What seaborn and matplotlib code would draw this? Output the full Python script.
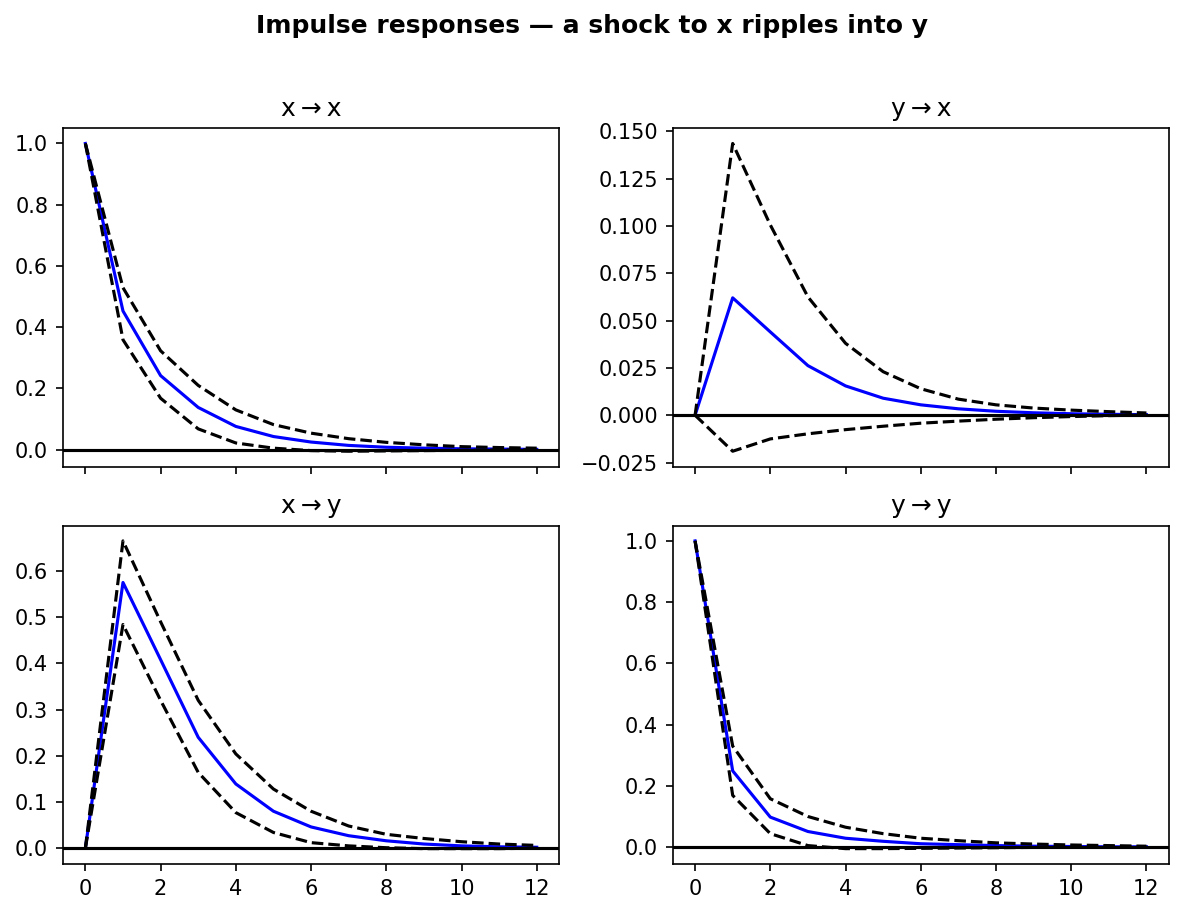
import numpy as np
import matplotlib
matplotlib.use("Agg")
import matplotlib.pyplot as plt
import seaborn as sns

# horizons 0..12
steps = list(range(13))

# x -> x
xx_irf = [1.0, 0.453, 0.242, 0.138, 0.076, 0.043, 0.025, 0.014, 0.008, 0.005, 0.003, 0.002, 0.001]
xx_upper = [1.0, 0.529, 0.323, 0.210, 0.130, 0.082, 0.054, 0.036, 0.024, 0.016, 0.010, 0.007, 0.005]
xx_lower = [1.0, 0.359, 0.168, 0.068, 0.022, 0.005, -0.003, -0.005, -0.004, -0.003, -0.002, -0.001, 0.0]

# y -> x
yx_irf = [0.0, 0.0620, 0.0440, 0.0262, 0.0155, 0.0090, 0.0055, 0.0034, 0.0021, 0.0013, 0.0008, 0.0005, 0.0003]
yx_upper = [0.0, 0.1435, 0.1005, 0.0625, 0.0380, 0.0230, 0.0140, 0.0085, 0.0055, 0.0038, 0.0027, 0.0019, 0.0012]
yx_lower = [0.0, -0.0190, -0.0125, -0.0098, -0.0076, -0.0058, -0.0042, -0.0031, -0.0021, -0.0013, -0.0007, -0.0002, 0.0001]

# x -> y
xy_irf = [0.0, 0.575, 0.408, 0.240, 0.139, 0.080, 0.046, 0.027, 0.016, 0.009, 0.005, 0.003, 0.002]
xy_upper = [0.0, 0.665, 0.490, 0.320, 0.204, 0.128, 0.080, 0.048, 0.030, 0.021, 0.014, 0.009, 0.006]
xy_lower = [0.0, 0.484, 0.320, 0.164, 0.077, 0.034, 0.012, 0.005, 0.001, -0.001, -0.001, -0.001, 0.0]

# y -> y
yy_irf = [1.0, 0.249, 0.098, 0.051, 0.029, 0.019, 0.011, 0.008, 0.005, 0.003, 0.002, 0.001, 0.001]
yy_upper = [1.0, 0.330, 0.158, 0.100, 0.065, 0.044, 0.029, 0.021, 0.014, 0.010, 0.007, 0.005, 0.003]
yy_lower = [1.0, 0.169, 0.044, 0.005, -0.005, -0.005, -0.004, -0.003, -0.002, -0.001, -0.001, 0.0, 0.0]

arrow = "\u2009\u2192\u2009"
panels = [
    ("x" + arrow + "x", xx_irf, xx_upper, xx_lower),
    ("y" + arrow + "x", yx_irf, yx_upper, yx_lower),
    ("x" + arrow + "y", xy_irf, xy_upper, xy_lower),
    ("y" + arrow + "y", yy_irf, yy_upper, yy_lower),
]

fig, axes = plt.subplots(2, 2, figsize=(7.9, 6.1), dpi=150, sharex=True)
fig.subplots_adjust(left=0.053, right=0.9865, top=0.860, bottom=0.0557,
                    wspace=0.228, hspace=0.174)

for ax, (title, irf, upper, lower) in zip(axes.flat, panels):
    sns.lineplot(x=steps, y=irf, ax=ax, color="b", linewidth=1.5)
    sns.lineplot(x=steps, y=upper, ax=ax, color="k", linestyle="--", linewidth=1.5)
    sns.lineplot(x=steps, y=lower, ax=ax, color="k", linestyle="--", linewidth=1.5)
    ax.axhline(0, color="k", linewidth=1.5)
    ax.set_title(title, fontsize=12)
    ax.set_xticks([0, 2, 4, 6, 8, 10, 12])

fig.suptitle("Impulse responses \u2014 a shock to x ripples into y",
             fontsize=12, fontweight="bold", y=0.985)

fig.savefig("out.png", dpi=150)
